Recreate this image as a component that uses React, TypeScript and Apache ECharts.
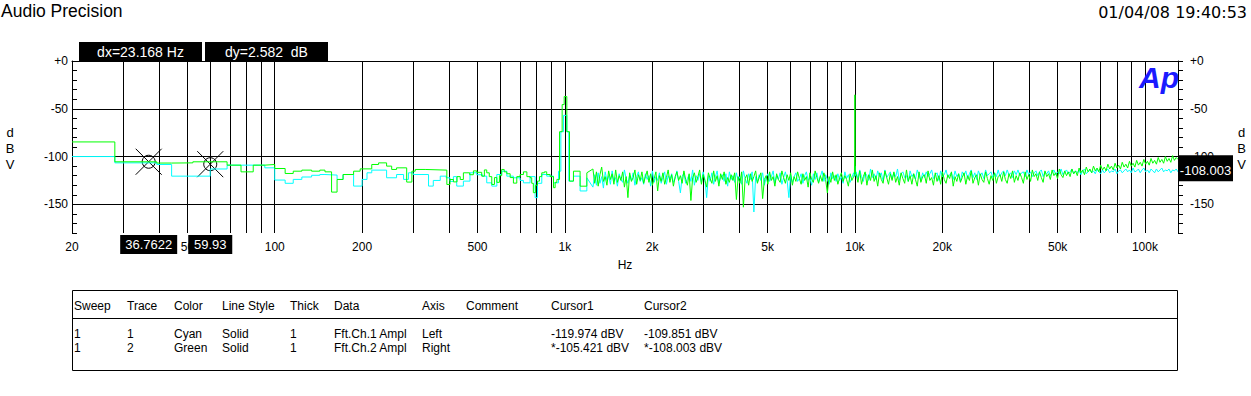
import React, { useEffect, useRef } from 'react';
import * as echarts from 'echarts';

const GREEN = '#00ff00';
const CYAN = '#00ffff';
const FONT = 'Liberation Sans';

const X_MIN_HZ = 20;
const X_MAX_HZ = 130000;
const Y_MIN = -180;
const Y_MAX = 0;
const GRID_FREQS = [30, 40, 50, 60, 70, 80, 90, 100, 200, 300, 400, 500, 600, 700, 800, 900, 1000, 2000, 3000, 4000, 5000, 6000, 7000, 8000, 9000, 10000, 20000, 30000, 40000, 50000, 60000, 70000, 80000, 90000, 100000];
const LABEL_FREQS = [20, 50, 100, 200, 500, 1000, 2000, 5000, 10000, 20000, 50000, 100000];
const LABEL_TEXTS = ['20', '50', '100', '200', '500', '1k', '2k', '5k', '10k', '20k', '50k', '100k'];
const Y_GRID = [0, -50, -100, -150];

// [Hz, dBV] step points, 20 Hz .. 1.2 kHz
const GREEN_LOW = [
  [20, -84.7], [28.1, -105.5], [39.2, -106.8], [44.1, -106.6], [52.2, -105.5], [68.5, -109], [76.5, -116], [84.3, -109],
  [92.4, -108.3], [100, -112.5], [108.6, -117.7], [115.8, -115.3], [124, -114.2], [134, -115.3], [143, -114.2], [149, -116],
  [157, -137.2], [164, -124], [172, -118.8], [187, -115.3], [197, -112.9], [216, -108.3], [228, -106.6], [243, -110],
  [253, -113.5], [263, -111.8], [285, -126.7], [297, -115.3], [305, -113.5], [330, -114.2], [392, -129.2], [402, -124],
  [413, -126.5], [425, -121], [436, -124], [447, -117], [470, -119], [484, -115], [497, -116.5], [517, -120.5], [528, -114],
  [538, -117], [549, -121], [560, -129.2], [572, -122], [583, -127], [595, -120], [606, -113.5], [618, -116], [631, -118],
  [648, -122], [665, -127.8], [683, -121], [701, -118.8], [720, -116], [740, -121], [759, -122.2], [769, -128], [779, -137.8],
  [792, -130], [805, -125.7], [818, -121], [833, -117], [850, -116], [866, -118.8], [890, -121], [914, -132.6], [926, -127],
  [939, -123.9], [959, -74], [979, -45.6], [995, -37.2], [1016, -74], [1038, -125.7], [1071, -115.3], [1129, -131], [1191, -117],
];
const CYAN_LOW = [
  [20, -100], [28.1, -106.6], [39.2, -108.3], [44.1, -120.5], [59.9, -113], [68.5, -109], [92.4, -111.8], [100, -124.6],
  [108.6, -128], [115.8, -123.9], [124, -121.4], [134, -119.6], [143, -118.8], [149, -119.4], [164, -123.9], [172, -118.8],
  [187, -130.9], [200, -123.9], [208, -117], [216, -114.2], [243, -122.2], [263, -118.8], [278, -123.9], [289, -117],
  [300, -118.8], [339, -130.9], [352, -125], [372, -120.5], [390, -122.2], [402, -126], [413, -121], [424, -130.9],
  [447, -125.7], [471, -117], [497, -119], [520, -120.5], [538, -127.5], [560, -130.9], [583, -118.8], [606, -115.3],
  [631, -120.5], [665, -122.2], [701, -125], [720, -127.5], [759, -121], [790, -143], [805, -128], [833, -118.8],
  [866, -120.5], [914, -127.5], [951, -115.3], [969, -74], [990, -56.9], [1016, -74], [1032, -125.7], [1071, -120.5],
  [1129, -136], [1191, -122.2],
];

// FFT noise floor, dBV, columns from 1.25 kHz to 9.9 kHz
const HF1_START = 1250;
const HF1_END = 9900;
const GREEN_HF1 = [
  -113, -128, -116, -131, -119, -111, -126, -121, -130, -115,
  -124, -118, -129, -114, -127, -120, -125, -116, -132, -121,
  -143, -117, -126, -122, -114, -129, -119, -125, -116, -128,
  -121, -115, -127, -118, -130, -123, -116, -136, -120, -126,
  -117, -129, -122, -114, -127, -119, -131, -121, -116, -125,
  -120, -128, -115, -124, -130, -118, -146, -122, -117, -127,
  -121, -114, -129, -119, -125, -132, -117, -123, -128, -115,
  -126, -120, -131, -118, -124, -116, -129, -122, -127, -119,
  -125, -117, -145, -121, -128, -116, -153, -123, -119, -130,
  -118, -126, -121, -115, -128, -122, -117, -144, -124, -120,
  -129, -116, -125, -121, -131, -118, -124, -127, -115, -122,
  -128, -119, -125, -117, -130, -121, -126, -116, -123, -129,
  -118, -125, -121, -132, -117, -124, -127, -115, -122, -128,
  -120, -126, -117, -124, -138, -121, -127, -116, -125, -119,
  -129, -122, -117, -126, -120, -124, -131, -118, -125, -121,
];
const CYAN_HF1 = [
  -132, -119, -130, -117, -128, -121, -133, -116, -125, -120,
  -129, -115, -126, -122, -131, -118, -124, -127, -114, -123,
  -128, -119, -125, -117, -130, -121, -116, -126, -122, -129,
  -118, -124, -120, -131, -115, -127, -121, -125, -117, -128,
  -122, -116, -129, -120, -124, -118, -127, -123, -115, -126,
  -138, -121, -117, -128, -123, -119, -126, -114, -130, -120,
  -125, -118, -127, -116, -124, -143, -120, -126, -117, -129,
  -121, -115, -128, -122, -119, -126, -118, -131, -116, -124,
  -120, -127, -117, -125, -121, -129, -115, -123, -128, -118,
  -124, -116, -158, -121, -127, -119, -125, -117, -130, -122,
  -118, -126, -121, -115, -128, -120, -124, -117, -129, -122,
  -116, -125, -143, -119, -127, -121, -117, -126, -123, -118,
  -128, -120, -116, -125, -122, -130, -118, -124, -117, -127,
  -121, -115, -126, -119, -124, -129, -117, -123, -120, -126,
  -118, -125, -121, -128, -116, -123, -119, -127, -122, -117,
];

// 10 kHz tone, [Hz, dBV]
const GREEN_10K = [[9960, -119], [9990, -92], [10000, -35.4], [10010, -95], [10040, -118]];
const CYAN_10K = [[9980, -121], [10000, -110], [10030, -120]];

// FFT noise floor, dBV, columns from 10.1 kHz to 130 kHz
const HF2_START = 10100;
const HF2_END = 130000;
const GREEN_HF2 = [
  -118, -127, -115, -129, -121, -116, -130, -119, -125, -114,
  -126, -120, -131, -117, -124, -128, -115, -122, -129, -118,
  -125, -116, -127, -121, -130, -117, -123, -128, -114, -126,
  -120, -129, -118, -124, -131, -116, -127, -121, -119, -128,
  -115, -125, -122, -130, -117, -126, -120, -129, -116, -124,
  -128, -119, -123, -116, -131, -121, -126, -118, -127, -122,
  -117, -129, -120, -125, -115, -128, -122, -119, -130, -118,
  -124, -127, -116, -123, -129, -120, -125, -117, -128, -121,
  -119, -126, -116, -124, -128, -118, -123, -115, -127, -120,
  -125, -117, -122, -128, -116, -124, -119, -126, -114, -121,
  -118, -125, -116, -122, -127, -115, -121, -118, -124, -114,
  -120, -117, -123, -113, -119, -122, -115, -120, -116, -121,
  -113, -118, -115, -120, -112, -117, -114, -119, -111, -116,
  -113, -117, -110, -115, -112, -116, -109, -114, -111, -115,
  -108, -113, -110, -114, -107, -112, -109, -113, -106, -111,
  -108, -112, -105, -110, -107, -111, -104, -109, -106, -110,
  -103, -108, -105, -109, -102, -107, -104, -108, -101, -106,
  -103, -107, -100, -105, -102, -106, -99, -104, -101, -103,
];
const CYAN_HF2 = [
  -116, -123, -114, -121, -126, -117, -120, -125, -113, -122,
  -118, -124, -115, -121, -117, -126, -114, -122, -119, -116,
  -123, -117, -121, -113, -125, -118, -116, -122, -120, -126,
  -115, -121, -118, -124, -114, -120, -125, -117, -122, -116,
  -121, -118, -114, -123, -119, -117, -125, -115, -121, -119,
  -114, -122, -119, -117, -124, -115, -121, -118, -126, -116,
  -120, -115, -123, -118, -114, -122, -117, -124, -115, -120,
  -117, -123, -114, -120, -118, -116, -122, -117, -121, -114,
  -121, -117, -115, -120, -114, -119, -117, -122, -115, -119,
  -114, -120, -117, -116, -121, -114, -119, -116, -121, -117,
  -115, -120, -116, -114, -121, -116, -118, -115, -120, -117,
  -114, -119, -116, -118, -113, -119, -116, -114, -118, -116,
  -113, -118, -115, -117, -114, -119, -115, -113, -118, -116,
  -114, -117, -115, -118, -113, -116, -118, -114, -117, -115,
  -113, -117, -115, -116, -113, -118, -115, -114, -117, -115,
  -113, -116, -114, -117, -112, -116, -115, -113, -117, -114,
  -112, -116, -114, -117, -113, -115, -117, -113, -116, -114,
  -112, -116, -114, -115, -113, -117, -114, -115, -113, -116,
];

// cursors: [Hz, dBV]
const CURSORS = [[36.7622, -105.421], [59.93, -108.003]];
const CURSOR_TEXTS = ['36.7622', '59.93'];
const DX_TEXT = 'dx=23.168 Hz';
const DY_TEXT = 'dy=2.582  dB';
const RIGHT_READOUT = '-108.003';

const TABLE_COLS = [74, 127, 174, 222, 290, 334, 422, 466, 551, 644];
const TABLE_HEAD = ['Sweep', 'Trace', 'Color', 'Line Style', 'Thick', 'Data', 'Axis', 'Comment', 'Cursor1', 'Cursor2'];
const TABLE_ROWS = [
  ['1', '1', 'Cyan', 'Solid', '1', 'Fft.Ch.1 Ampl', 'Left', '', '-119.974 dBV', '-109.851 dBV'],
  ['1', '2', 'Green', 'Solid', '1', 'Fft.Ch.2 Ampl', 'Right', '', '*-105.421 dBV', '*-108.003 dBV'],
];

const lg = (f: number) => Math.log10(f);
const toXY = (arr: number[][]) => arr.map(([f, v]) => [lg(f), v]);
const columns = (vals: number[], f0: number, f1: number) =>
  vals.map((v, i) => [lg(f0) + ((lg(f1) - lg(f0)) * i) / (vals.length - 1), v]);

const yFmt = (v: number) => {
  const r = Math.round(v);
  return r % 50 === 0 ? (r === 0 ? '+0' : String(r)) : '';
};
const xFmt = (v: number) => {
  let best = 0;
  let d = Infinity;
  LABEL_FREQS.forEach((f, i) => {
    const dd = Math.abs(lg(f) - v);
    if (dd < d) {
      d = dd;
      best = i;
    }
  });
  return LABEL_TEXTS[best];
};

const txt = (x: number, y: number, text: string, opts: any = {}) => ({
  type: 'text',
  x,
  y,
  z: 100,
  style: {
    text,
    fill: opts.fill || '#000',
    fontSize: opts.fontSize || 12,
    fontFamily: opts.fontFamily || FONT,
    fontWeight: opts.fontWeight || 'normal',
    fontStyle: opts.fontStyle || 'normal',
    align: opts.align || 'left',
    verticalAlign: 'middle',
  },
});

export default function App() {
  const ref = useRef<HTMLDivElement>(null);
  useEffect(() => {
    const chart = echarts.init(ref.current!, null, { renderer: 'svg' });

    const cyanLow = toXY(CYAN_LOW);
    const greenLow = toXY(GREEN_LOW);
    const cyanHigh = [
      cyanLow[cyanLow.length - 1],
      ...columns(CYAN_HF1, HF1_START, HF1_END),
      ...toXY(CYAN_10K),
      ...columns(CYAN_HF2, HF2_START, HF2_END),
    ];
    const greenHigh = [
      greenLow[greenLow.length - 1],
      ...columns(GREEN_HF1, HF1_START, HF1_END),
      ...toXY(GREEN_10K),
      ...columns(GREEN_HF2, HF2_START, HF2_END),
    ];

    const axisText = { color: '#000', fontSize: 12, fontFamily: FONT };
    const lineSeries = (data: number[][], color: string, yAxisIndex: number, step: any) => ({
      type: 'line',
      data,
      step,
      yAxisIndex,
      symbol: 'none',
      silent: true,
      lineStyle: { color, width: 1 },
      emphasis: { disabled: true },
    });

    chart.setOption({
      animation: false,
      backgroundColor: '#fff',
      grid: { left: 72, right: 73, top: 61, bottom: 163 },
      xAxis: {
        type: 'value',
        min: lg(X_MIN_HZ),
        max: lg(X_MAX_HZ),
        axisLine: { show: true, lineStyle: { color: '#000', width: 1 } },
        axisTick: { show: false, customValues: GRID_FREQS.map(lg) },
        splitLine: { show: true, lineStyle: { color: '#000', width: 1 } },
        axisLabel: { ...axisText, customValues: LABEL_FREQS.map(lg), formatter: xFmt, margin: 8 },
        name: 'Hz',
        nameLocation: 'middle',
        nameGap: 26,
        nameTextStyle: axisText,
      },
      yAxis: [
        {
          type: 'value',
          min: Y_MIN,
          max: Y_MAX,
          interval: 10,
          position: 'left',
          axisLine: { show: true, lineStyle: { color: '#000', width: 1 } },
          axisTick: { show: true, inside: true, length: 5, lineStyle: { color: '#000', width: 1 } },
          axisLabel: { ...axisText, formatter: yFmt, margin: 4 },
          splitLine: { show: false },
        },
        {
          type: 'value',
          min: Y_MIN,
          max: Y_MAX,
          interval: 10,
          position: 'right',
          axisLine: { show: true, lineStyle: { color: '#000', width: 1 } },
          axisTick: { show: true, inside: false, length: 5, lineStyle: { color: '#000', width: 1 } },
          axisLabel: { ...axisText, formatter: yFmt, margin: 12 },
          splitLine: { show: false },
        },
        {
          type: 'value',
          min: Y_MIN,
          max: Y_MAX,
          position: 'left',
          axisLine: { show: false },
          axisTick: { show: false, customValues: Y_GRID },
          axisLabel: { show: false },
          splitLine: { show: true, lineStyle: { color: '#000', width: 1 } },
        },
      ],
      series: [
        lineSeries(cyanLow, CYAN, 0, 'end'),
        lineSeries(cyanHigh, CYAN, 0, false),
        lineSeries(greenLow, GREEN, 1, 'end'),
        lineSeries(greenHigh, GREEN, 1, false),
        {
          type: 'custom',
          yAxisIndex: 1,
          silent: true,
          data: toXY(CURSORS),
          renderItem: (_p: any, api: any) => {
            const p = api.coord([api.value(0), api.value(1)]);
            const a = 13;
            return {
              type: 'group',
              children: [
                { type: 'circle', shape: { cx: p[0], cy: p[1], r: 6.5 }, style: { fill: 'none', stroke: '#000', lineWidth: 1 } },
                { type: 'line', shape: { x1: p[0] - a, y1: p[1] - a, x2: p[0] + a, y2: p[1] + a }, style: { stroke: '#000', lineWidth: 1 } },
                { type: 'line', shape: { x1: p[0] - a, y1: p[1] + a, x2: p[0] + a, y2: p[1] - a }, style: { stroke: '#000', lineWidth: 1 } },
              ],
            };
          },
        },
      ],
    });

    const cx = CURSORS.map((c) => chart.convertToPixel({ xAxisIndex: 0 }, lg(c[0])) as number);
    const ry = chart.convertToPixel({ yAxisIndex: 1 }, CURSORS[1][1]) as number;
    const boxW = [57, 44];

    const graphics: any[] = [
      txt(1, 11, 'Audio Precision', { fontSize: 17.5 }),
      txt(1247, 12.5, '01/04/08 19:40:53', { fontSize: 16, fontFamily: 'DejaVu Sans', align: 'right' }),
      txt(10, 132, 'd', { fontSize: 13, align: 'center' }),
      txt(10, 148, 'B', { fontSize: 13, align: 'center' }),
      txt(10, 164, 'V', { fontSize: 13, align: 'center' }),
      txt(1241.5, 132, 'd', { fontSize: 13, align: 'center' }),
      txt(1241.5, 148, 'B', { fontSize: 13, align: 'center' }),
      txt(1241.5, 164, 'V', { fontSize: 13, align: 'center' }),
      txt(1139, 77, 'Ap', { fontSize: 30, fontWeight: 'bold', fontStyle: 'italic', fill: '#1a1aff' }),
      { type: 'rect', z: 100, shape: { x: 79, y: 42, width: 123, height: 19 }, style: { fill: '#000' } },
      txt(140.5, 51.5, DX_TEXT, { fontSize: 14, fill: '#fff', align: 'center' }),
      { type: 'rect', z: 100, shape: { x: 205, y: 42, width: 123, height: 19 }, style: { fill: '#000' } },
      txt(266.5, 51.5, DY_TEXT, { fontSize: 14, fill: '#fff', align: 'center' }),
      { type: 'rect', z: 100, shape: { x: 1178, y: ry - 9, width: 55, height: 26 }, style: { fill: '#000' } },
      txt(1205.5, ry + 6.5, RIGHT_READOUT, { fontSize: 13, fill: '#fff', align: 'center' }),
      { type: 'rect', z: 100, shape: { x: 72.5, y: 290.5, width: 1105, height: 80 }, style: { fill: 'none', stroke: '#000', lineWidth: 1 } },
      { type: 'line', z: 100, shape: { x1: 72.5, y1: 318.5, x2: 1177.5, y2: 318.5 }, style: { stroke: '#000', lineWidth: 1 } },
    ];
    CURSORS.forEach((_c, i) => {
      graphics.push({ type: 'rect', z: 100, shape: { x: cx[i] - boxW[i] / 2, y: 235, width: boxW[i], height: 19 }, style: { fill: '#000' } });
      graphics.push(txt(cx[i], 244.5, CURSOR_TEXTS[i], { fontSize: 13, fill: '#fff', align: 'center' }));
    });
    TABLE_HEAD.forEach((h, i) => graphics.push(txt(TABLE_COLS[i], 306, h)));
    TABLE_ROWS.forEach((row, r) =>
      row.forEach((cell, i) => {
        if (cell) graphics.push(txt(TABLE_COLS[i], r === 0 ? 334 : 348, cell));
      })
    );
    chart.setOption({ graphic: graphics });

    return () => chart.dispose();
  }, []);
  return (
    <div
      ref={ref}
      style={{ position: 'absolute', left: 0, top: 0, width: 1251, height: 396, background: '#fff' }}
    />
  );
}
